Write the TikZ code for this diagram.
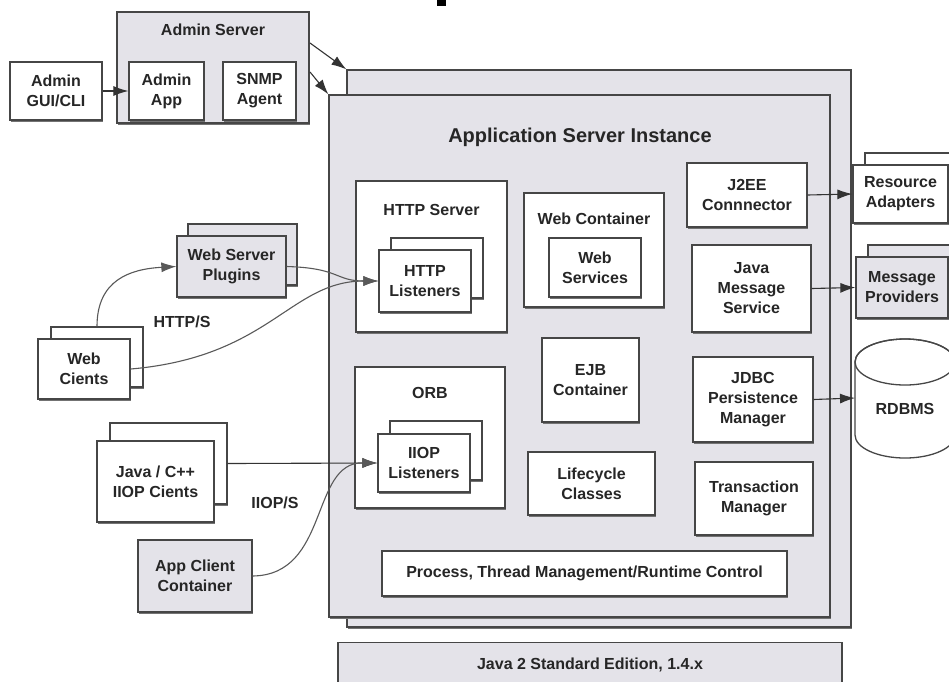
\documentclass[tikz,border=0pt]{standalone}
\usepackage{fontspec}
\setmainfont{Liberation Sans}
\usetikzlibrary{arrows.meta,shadows}
\definecolor{boxgray}{RGB}{228,227,233}
\definecolor{edgec}{RGB}{70,70,70}
\begin{document}
\begin{tikzpicture}[x=1pt,y=-1pt,
  box/.style={draw=edgec, line width=1.3pt, fill=white, align=center,
    font=\bfseries\fontsize{16}{20}\selectfont, text=black!85, inner sep=0pt,
    drop shadow={shadow xshift=0.6pt, shadow yshift=-1.8pt, fill=black!55, opacity=1}},
  gbox/.style={box, fill=boxgray},
  txt/.style={font=\bfseries\fontsize{16}{20}\selectfont, text=black!85, align=center, inner sep=0pt},
  conn/.style={draw=black!80, line width=1.1pt, -{Latex[length=15pt,width=10pt]}},
  curve/.style={conn, draw=black!65}]
\clip (0,0) rectangle (949,681);
\fill[white] (0,0) rectangle (949,681);
\fill[black] (437,0) rectangle (446,6);

% Admin server
\node[gbox, minimum width=192, minimum height=111] (adminsrv) at (213,67.5) {};
\node[txt] (admintitle) at (213,30) {Admin Server};
\node[box, minimum width=92, minimum height=58] (admingui) at (56,91) {Admin\\GUI/CLI};
\node[box, minimum width=75, minimum height=58] (adminapp) at (166.5,91) {Admin\\App};
\node[box, minimum width=73, minimum height=58] (snmp) at (259.5,91) {SNMP\\Agent};

% Application server instance
\node[gbox, minimum width=504, minimum height=557] (asback) at (599,348.5) {};
\node[gbox, minimum width=501, minimum height=522] (asfront) at (579.5,356) {};
\node[txt, font=\bfseries\fontsize{20}{24}\selectfont] (astitle) at (580,137) {Application Server Instance};

% HTTP server
\node[box, minimum width=151, minimum height=151] (httpsrv) at (431.5,256.5) {};
\node[txt] (httptitle) at (431.5,210) {HTTP Server};
\node[box, minimum width=92, minimum height=60] (httplb) at (437,268) {};
\node[box, minimum width=92, minimum height=62] (httpl) at (425,281) {HTTP\\Listeners};

% Web container
\node[box, minimum width=140, minimum height=114] (webc) at (594,250) {};
\node[txt] (webctitle) at (594,219) {Web Container};
\node[box, minimum width=92, minimum height=59] (webs) at (595,267.5) {Web\\Services};

\node[box, minimum width=97, minimum height=84] (ejb) at (590.5,380) {EJB\\Container};

% ORB
\node[box, minimum width=150, minimum height=141] (orb) at (430,437.5) {};
\node[txt] (orbtitle) at (430,393) {ORB};
\node[box, minimum width=92, minimum height=59] (iiopb) at (436,450.5) {};
\node[box, minimum width=92, minimum height=58] (iiop) at (424,463) {IIOP\\Listeners};

\node[box, minimum width=127, minimum height=63] (life) at (591.5,483.5) {Lifecycle\\Classes};

\node[box, minimum width=120, minimum height=64] (j2ee) at (747,195) {J2EE\\Connnector};
\node[box, minimum width=119, minimum height=87] (jms) at (751.5,288.5) {Java\\Message\\Service};
\node[box, minimum width=120, minimum height=85] (jdbc) at (753,399.5) {JDBC\\Persistence\\Manager};
\node[box, minimum width=118, minimum height=73] (tx) at (754,498.5) {Transaction\\Manager};
\node[box, minimum width=405, minimum height=45] (proc) at (584.5,573.5) {Process, Thread Management/Runtime Control};

% Java 2 SE
\node[gbox, minimum width=504, minimum height=70, anchor=north] (j2se) at (590,642) {};
\node[txt] (j2setext) at (590,665) {Java 2 Standard Edition, 1.4.x};

% Right side resources
\node[box, minimum width=95, minimum height=58] (rab) at (912.5,182) {};
\node[box, minimum width=95, minimum height=58] (ra) at (900.5,194) {Resource\\Adapters};
\node[gbox, minimum width=92, minimum height=61] (mpb) at (914,275.5) {};
\node[gbox, minimum width=92, minimum height=61] (mp) at (902,287.5) {Message\\Providers};

% RDBMS cylinder
\draw[draw=edgec, line width=1.3pt, fill=white] (855,362) -- (855,435)
  arc[start angle=180, end angle=360, x radius=50pt, y radius=23pt] -- (955,362)
  arc[start angle=0, end angle=180, x radius=50pt, y radius=23pt] -- cycle;
\draw[draw=edgec, line width=1.3pt] (905,362) ellipse [x radius=50pt, y radius=23pt];
\node[txt] (rdbms) at (905,409) {RDBMS};
\coordinate (rdbmsW) at (855,398);

% Left side clients
\node[gbox, minimum width=109, minimum height=61] (wspb) at (242.5,254.5) {};
\node[gbox, minimum width=109, minimum height=61] (wsp) at (231.5,266.5) {Web Server\\Plugins};
\node[box, minimum width=92, minimum height=60] (wcb) at (97,357) {};
\node[box, minimum width=92, minimum height=60] (wc) at (84,369) {Web\\Cients};
\node[box, minimum width=117, minimum height=81] (jcb) at (168.5,463.5) {};
\node[box, minimum width=117, minimum height=81] (jc) at (155.5,481.5) {Java / C++\\IIOP Cients};
\node[gbox, minimum width=114, minimum height=72] (acc) at (195,576) {App Client\\Container};

\node[txt] (https) at (182,322) {HTTP/S};
\node[txt] (iiops) at (275,503) {IIOP/S};

% Connectors
\draw[conn] (admingui.east) -- (adminapp.west);
\coordinate (adm1) at (310,43);
\coordinate (adm2) at (310,72);
\draw[conn] (adm1) -- (asback.north west);
\draw[conn] (adm2) -- (asfront.north west);

\draw[curve] (wcb.north) .. controls (97,280) and (130,269) .. (wsp.west);
\draw[curve] (wsp.east) .. controls (340,268) and (335,281) .. (httpl.west);
\draw[curve] (wc.east) .. controls (270,357) and (290,281) .. (httpl.west);

\draw[conn] (jcb.east) -- (iiop.west);
\draw[curve] (acc.east) .. controls (330,575) and (310,462) .. (iiop.west);

\draw[conn] (j2ee.east) -- (ra.west);
\draw[conn] (jms.east) -- (mp.west);
\draw[conn] (jdbc.east) -- (rdbmsW);
\end{tikzpicture}
\end{document}
